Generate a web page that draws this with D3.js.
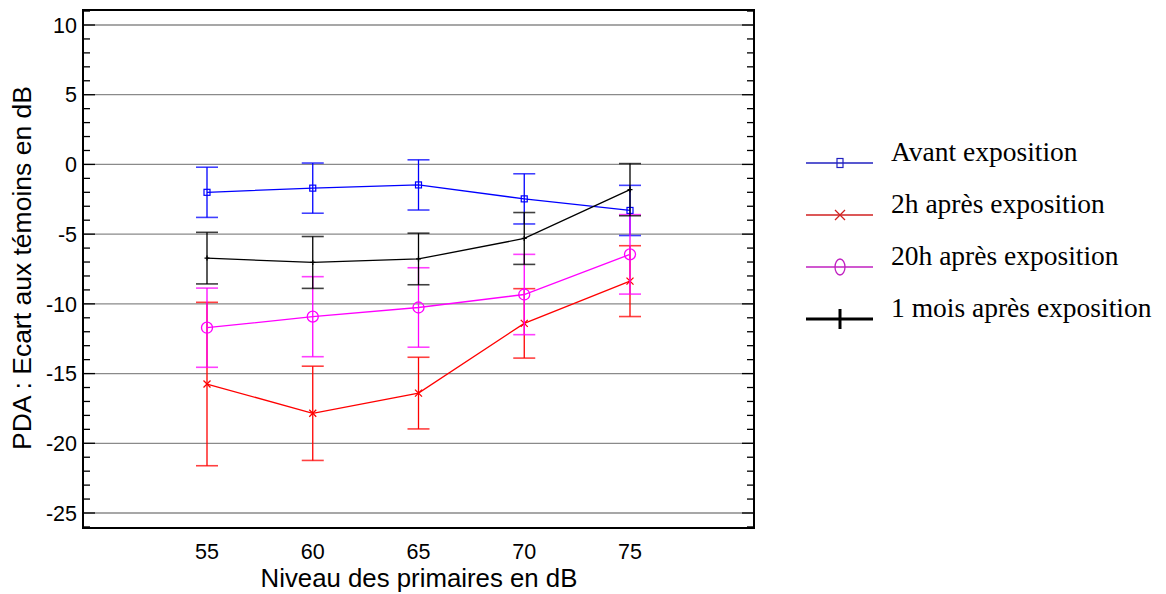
<!DOCTYPE html>
<html>
<head>
<meta charset="utf-8">
<script src="https://cdn.jsdelivr.net/npm/d3@7"></script>
<style>
  body { margin: 0; background: #fff; }
  text { font-family: "Liberation Sans", Arial, sans-serif; }
  .legend text { font-family: "Liberation Serif", "Times New Roman", serif; }
</style>
</head>
<body>
<svg id="chart" width="1166" height="594"></svg>
<script>
var levels = [55, 60, 65, 70, 75];
var yTicks = [10, 5, 0, -5, -10, -15, -20, -25];

var avant = [-2.0, -1.7, -1.47, -2.47, -3.3];
var avantErr = [1.8, 1.8, 1.8, 1.8, 1.8];
var deuxH = [-15.75, -17.85, -16.4, -11.4, -8.37];
var deuxHErr = [5.86, 3.38, 2.57, 2.49, 2.54];
var vingtH = [-11.71, -10.92, -10.26, -9.33, -6.45];
var vingtHErr = [2.84, 2.87, 2.85, 2.88, 2.85];
var unMois = [-6.72, -7.03, -6.78, -5.31, -1.81];
var unMoisErr = [1.85, 1.86, 1.85, 1.86, 1.87];

var seriesNames = ["Avant exposition", "2h après exposition", "20h après exposition", "1 mois après exposition"];
var colors = ["#0000ff", "#ff0000", "#ff00ff", "#000000"];
var legendColors = ["#2020c0", "#d02020", "#c020c0", "#000000"];
var markers = ["square", "cross", "circle", "plus"];

var series = [
  {name: seriesNames[0], values: avant, err: avantErr, color: colors[0], lc: legendColors[0], marker: markers[0]},
  {name: seriesNames[1], values: deuxH, err: deuxHErr, color: colors[1], lc: legendColors[1], marker: markers[1]},
  {name: seriesNames[2], values: vingtH, err: vingtHErr, color: colors[2], lc: legendColors[2], marker: markers[2]},
  {name: seriesNames[3], values: unMois, err: unMoisErr, color: colors[3], lc: legendColors[3], marker: markers[3]}
];

var svg = d3.select("#chart"),
    box = {left: 83, right: 754, top: 10, bottom: 528};

var x = d3.scaleLinear().domain([55, 75]).range([207, 630]);
var y = d3.scaleLinear().domain([-25, 10]).range([513, 25]);
var yMin = y.invert(box.bottom), yMax = y.invert(box.top);

// grid
svg.append("g").selectAll("line")
    .data(yTicks)
  .enter().append("line")
    .attr("x1", box.left).attr("x2", box.right)
    .attr("y1", function(d) { return y(d); }).attr("y2", function(d) { return y(d); })
    .attr("stroke", "#8a8a8a").attr("stroke-width", 1.3);

// minor + major ticks, left and right, pointing inward
var allTicks = d3.range(Math.ceil(yMin), Math.floor(yMax) + 1);
var tk = svg.append("g");
allTicks.forEach(function(v) {
  var len = (v % 5 === 0) ? 12 : 7;
  tk.append("line").attr("x1", box.left).attr("x2", box.left + len)
      .attr("y1", y(v)).attr("y2", y(v)).attr("stroke", "#000").attr("stroke-width", 1.3);
  tk.append("line").attr("x1", box.right).attr("x2", box.right - len)
      .attr("y1", y(v)).attr("y2", y(v)).attr("stroke", "#000").attr("stroke-width", 1.3);
});

// frame
svg.append("rect")
    .attr("x", box.left).attr("y", box.top)
    .attr("width", box.right - box.left).attr("height", box.bottom - box.top)
    .attr("fill", "none").attr("stroke", "#000").attr("stroke-width", 2);

// y axis labels
svg.append("g").selectAll("text")
    .data(yTicks)
  .enter().append("text")
    .attr("x", 77).attr("y", function(d) { return y(d); })
    .attr("dy", "0.36em")
    .attr("text-anchor", "end")
    .attr("font-size", 21.5)
    .text(function(d) { return d; });

// x axis labels
svg.append("g").selectAll("text")
    .data(levels)
  .enter().append("text")
    .attr("x", function(d) { return x(d); }).attr("y", 559)
    .attr("text-anchor", "middle")
    .attr("font-size", 21.5)
    .text(function(d) { return d; });

svg.append("text")
    .attr("x", 419).attr("y", 587)
    .attr("text-anchor", "middle")
    .attr("font-size", 25.8)
    .text("Niveau des primaires en dB");

svg.append("text")
    .attr("transform", "translate(31,268) rotate(-90)")
    .attr("text-anchor", "middle")
    .attr("font-size", 26.5)
    .text("PDA : Ecart aux témoins en dB");

function drawMarker(g, type, cx, cy, color, big) {
  if (type === "square") {
    var w = 6, h = big ? 9 : 6;
    g.append("rect").attr("x", cx - w / 2).attr("y", cy - h / 2).attr("width", w).attr("height", h)
        .attr("fill", "none").attr("stroke", color).attr("stroke-width", 1.2);
  } else if (type === "cross") {
    var s = big ? 5 : 3.5;
    g.append("path").attr("d", "M" + (cx - s) + "," + (cy - s) + "L" + (cx + s) + "," + (cy + s) +
        "M" + (cx - s) + "," + (cy + s) + "L" + (cx + s) + "," + (cy - s))
        .attr("stroke", color).attr("stroke-width", 1.3);
  } else if (type === "circle") {
    g.append("ellipse").attr("cx", cx).attr("cy", cy)
        .attr("rx", big ? 5 : 5.5).attr("ry", big ? 8 : 5.5)
        .attr("fill", "none").attr("stroke", color).attr("stroke-width", 1.3);
  } else {
    var p = big ? 10 : 2.5;
    g.append("path").attr("d", "M" + cx + "," + (cy - p) + "L" + cx + "," + (cy + p) +
        (big ? "" : "M" + (cx - p) + "," + cy + "L" + (cx + p) + "," + cy))
        .attr("stroke", color).attr("stroke-width", big ? 3 : 1.3);
  }
}

var line = d3.line()
    .x(function(d) { return x(d.level); })
    .y(function(d) { return y(d.value); });

series.forEach(function(s) {
  var pts = levels.map(function(l, i) { return {level: l, value: s.values[i], err: s.err[i]}; });
  var g = svg.append("g");

  pts.forEach(function(d) {
    var cx = x(d.level), top = y(d.value + d.err), bot = y(d.value - d.err);
    g.append("line").attr("x1", cx).attr("x2", cx).attr("y1", top).attr("y2", bot)
        .attr("stroke", s.color).attr("stroke-width", 1.3);
    [top, bot].forEach(function(cy) {
      g.append("line").attr("x1", cx - 11).attr("x2", cx + 11).attr("y1", cy).attr("y2", cy)
          .attr("stroke", s.color).attr("stroke-width", 1.6).attr("stroke-opacity", 0.75);
    });
  });

  g.append("path")
      .datum(pts)
      .attr("fill", "none")
      .attr("stroke", s.color)
      .attr("stroke-width", 1.3)
      .attr("d", line);

  pts.forEach(function(d) { drawMarker(g, s.marker, x(d.level), y(d.value), s.color, false); });
});

// legend
var legend = svg.append("g").attr("class", "legend");
series.forEach(function(s, i) {
  var ly = 163 + i * 52;
  legend.append("line").attr("x1", 806).attr("x2", 873).attr("y1", ly).attr("y2", ly)
      .attr("stroke", s.lc).attr("stroke-width", i === 3 ? 3 : 1.5);
  drawMarker(legend, s.marker, 840, ly, s.lc, true);
  legend.append("text").attr("x", 891).attr("y", ly - 2)
      .attr("font-size", 27.5)
      .text(s.name);
});
</script>
</body>
</html>
